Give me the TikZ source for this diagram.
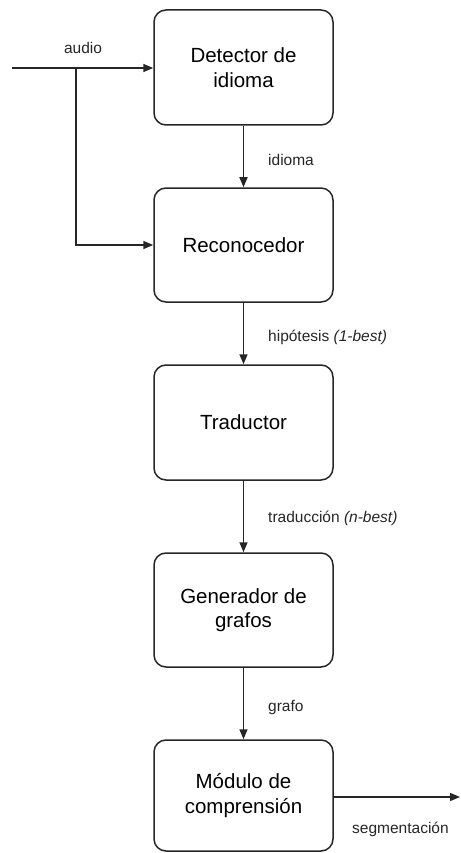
\documentclass[tikz,border=0pt]{standalone}
\usepackage{fontspec}
\setmainfont{Liberation Sans}
\usetikzlibrary{arrows.meta}
\begin{document}
\begin{tikzpicture}[x=1pt,y=-1pt,
  module/.style={draw=black!85, line width=1.5pt, rounded corners=12pt,
    minimum width=179pt, align=center, inner sep=0pt,
    font=\fontsize{20.5}{24.5}\selectfont},
  flow/.style={draw=black!85, line width=1.5pt,
    -{Triangle[length=10pt,width=8pt]}},
  lbl/.style={font=\fontsize{15.5}{18}\selectfont, text=black!85, inner sep=0pt}]
\useasboundingbox (0,0) rectangle (460,853);

% processing modules, top to bottom
\node[module, minimum height=115pt] (det) at (243.5,67.5) {Detector de\\idioma};
\node[module, minimum height=114pt] (rec) at (243.5,245) {Reconocedor};
\node[module, minimum height=115pt] (tra) at (243.5,422.5) {Traductor};
\node[module, minimum height=114pt] (gen) at (243.5,610) {Generador de\\grafos};
\node[module, minimum height=111pt] (com) at (243.5,795.5) {Módulo de\\comprensión};

% audio input, split towards detector and recogniser
\coordinate (in) at (12,68);
\coordinate (split) at (76,68);
\coordinate (out) at (460,797);
\draw[flow] (in) -- (det.west |- in);
\draw[flow] (split) |- (rec.west);
\node[lbl] (audiolbl) at (83,48) {audio};

% chain of modules
\draw[flow] (det) -- (rec);
\draw[flow] (rec) -- (tra);
\draw[flow] (tra) -- (gen);
\draw[flow] (gen) -- (com);
\draw[flow] (com.east |- out) -- (out);

% connector labels
\node[lbl, anchor=west] (l1) at (268,160) {idioma};
\node[lbl, anchor=west] (l2) at (268,337) {hipótesis \textit{(1-best)}};
\node[lbl, anchor=west] (l3) at (268,518) {traducción \textit{(n-best)}};
\node[lbl, anchor=west] (l4) at (268,707) {grafo};
\node[lbl, anchor=west] (l5) at (352,829) {segmentación};
\end{tikzpicture}
\end{document}
